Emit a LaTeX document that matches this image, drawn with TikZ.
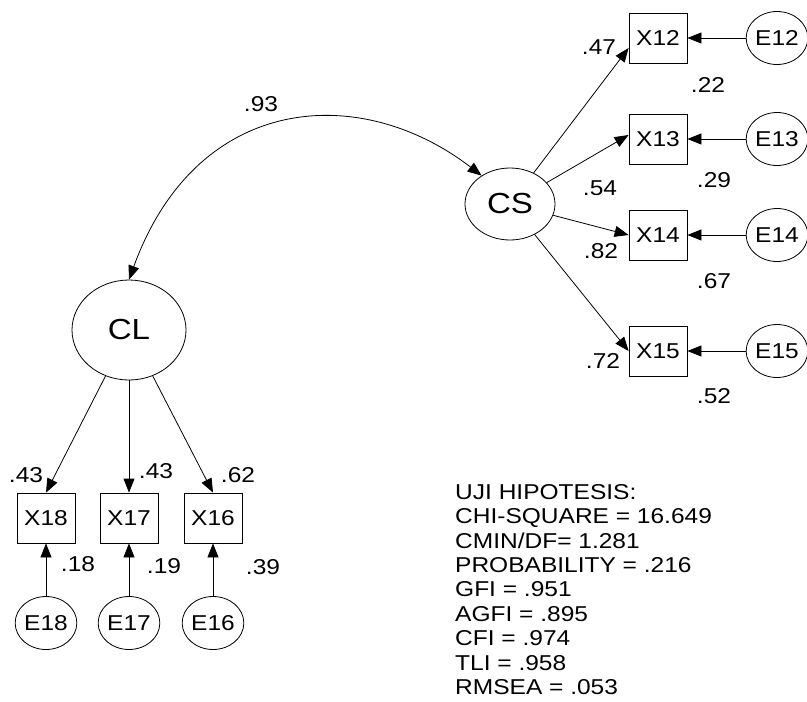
\documentclass[tikz,border=0pt]{standalone}
\usepackage{fontspec}
\setmainfont{Liberation Sans}[FakeStretch=1.14]
\usetikzlibrary{shapes.geometric,arrows.meta,calc}
\tikzset{
  obs/.style={draw,line width=0.8pt,minimum width=58pt,minimum height=50pt,inner sep=0pt,font=\fontsize{21.5}{24}\selectfont},
  errv/.style={draw,ellipse,line width=0.8pt,minimum width=58pt,minimum height=53pt,inner sep=0pt,font=\fontsize{21.5}{24}\selectfont},
  latv/.style={draw,ellipse,line width=0.8pt,inner sep=0pt,font=\fontsize{29}{31}\selectfont},
  lbl/.style={inner sep=0pt,font=\fontsize{21.5}{24}\selectfont},
  path/.style={line width=0.8pt,-{Triangle[length=14pt,width=11pt]}},
  cov/.style={line width=0.8pt,{Triangle[length=14pt,width=11pt]}-{Triangle[length=14pt,width=11pt]}}
}
\begin{document}
\begin{tikzpicture}[x=1pt,y=-1pt]
\useasboundingbox[fill=white] (0,0) rectangle (807,702);
% latent variables
\node[latv,minimum width=90pt,minimum height=72pt] (CS) at (510,204) {CS};
\node[latv,minimum width=114pt,minimum height=100pt] (CL) at (129,330) {CL};
% right indicators
\node[obs] (X12) at (658,38) {X12};
\node[obs] (X13) at (658,139) {X13};
\node[obs] (X14) at (658,235) {X14};
\node[obs] (X15) at (658,351) {X15};
\node[errv] (E12) at (777,38) {E12};
\node[errv] (E13) at (777,139) {E13};
\node[errv] (E14) at (777,235) {E14};
\node[errv] (E15) at (777,351) {E15};
% bottom indicators
\node[obs] (X18) at (46,518) {X18};
\node[obs] (X17) at (129,518) {X17};
\node[obs] (X16) at (213,518) {X16};
\node[errv] (E18) at (46,623) {E18};
\node[errv] (E17) at (129,623) {E17};
\node[errv] (E16) at (213,623) {E16};
% connectors
\coordinate (t12) at ($(X12.west)+(0,10)$);
\coordinate (t13) at ($(X13.west)+(0,-4)$);
\draw[path] (CS) -- (t12);
\draw[path] (CS) -- (t13);
\draw[path] (CS) -- (X14.west);
\draw[path] (CS) -- (X15.west);
\draw[path] (E12) -- (X12.east);
\draw[path] (E13) -- (X13.east);
\draw[path] (E14) -- (X14.east);
\draw[path] (E15) -- (X15.east);
\draw[path] (CL) -- (X18.north);
\draw[path] (CL) -- (X17.north);
\draw[path] (CL) -- (X16.north);
\draw[path] (E18) -- (X18.south);
\draw[path] (E17) -- (X17.south);
\draw[path] (E16) -- (X16.south);
\draw[cov] (CL.north) .. controls (197,93) and (360,82) .. (CS.135);
% labels
\node[lbl] (l93) at (261,104) {.93};
\node[lbl] (l47) at (599,47) {.47};
\node[lbl] (l22) at (708,85) {.22};
\node[lbl] (l54) at (600,188) {.54};
\node[lbl] (l29) at (714,180) {.29};
\node[lbl] (l82) at (601,251) {.82};
\node[lbl] (l67) at (714,281) {.67};
\node[lbl] (l72) at (603,361) {.72};
\node[lbl] (l52) at (714,396) {.52};
\node[lbl] (l43a) at (26,475) {.43};
\node[lbl] (l43b) at (156,471) {.43};
\node[lbl] (l62) at (238,475) {.62};
\node[lbl] (l18) at (78,564) {.18};
\node[lbl] (l19) at (164,566) {.19};
\node[lbl] (l39) at (263,567) {.39};
% fit statistics
\node[anchor=north west,inner sep=0pt,align=left,font=\fontsize{21.5}{24.4}\selectfont] (stats) at (455,484)
{UJI HIPOTESIS:\\CHI-SQUARE = 16.649\\CMIN/DF= 1.281\\PROBABILITY = .216\\GFI = .951\\AGFI = .895\\CFI = .974\\TLI = .958\\RMSEA = .053};
\end{tikzpicture}
\end{document}
